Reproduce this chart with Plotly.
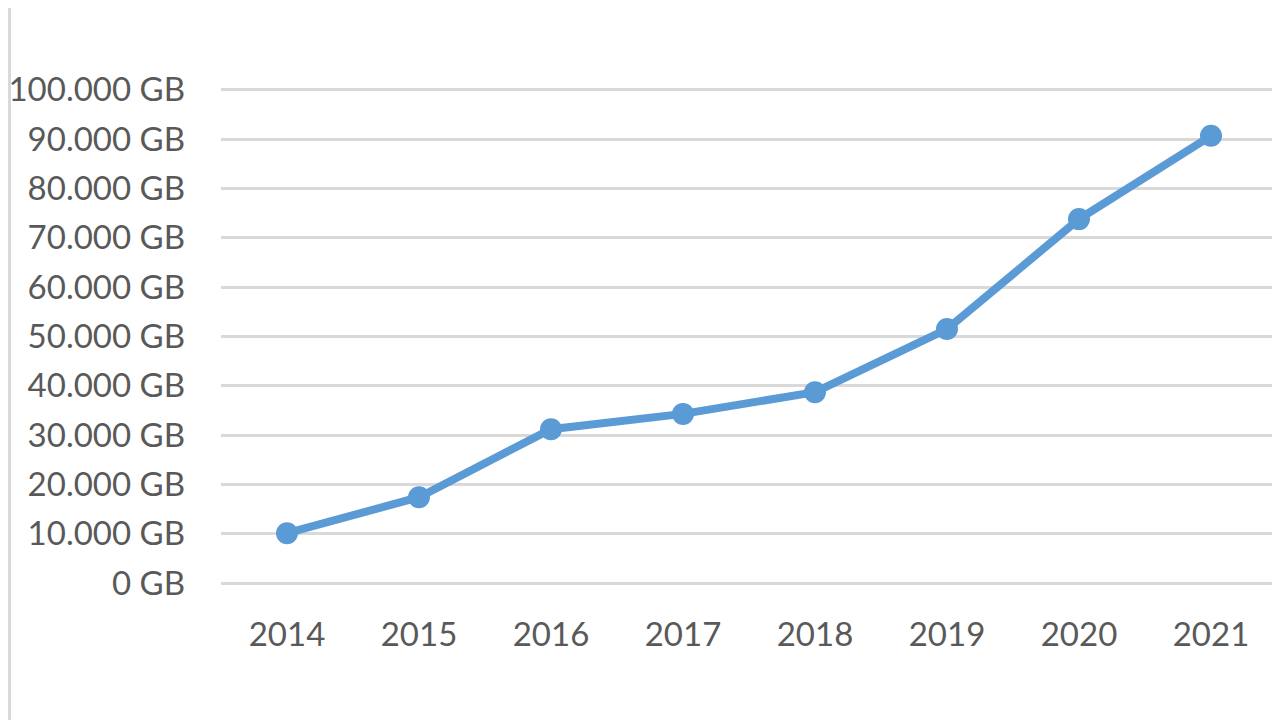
import plotly.graph_objects as go

years = ["2014", "2015", "2016", "2017", "2018", "2019", "2020", "2021"]
values_gb = [10100, 17400, 31200, 34300, 38700, 51500, 73800, 90700]
tick_vals = [0, 10000, 20000, 30000, 40000, 50000, 60000, 70000, 80000, 90000, 100000]
tick_text = ["0 GB", "10.000 GB", "20.000 GB", "30.000 GB", "40.000 GB", "50.000 GB",
             "60.000 GB", "70.000 GB", "80.000 GB", "90.000 GB", "100.000 GB"]

# page is offset by the default 8px body margin
OFF = 8
W, H = 1280, 720
ML = 221 - OFF
MR = W - (1277 - OFF)
MT = 85 - OFF
MB = H - (583 - OFF)
pw = W - ML - MR

def px_x(px):
    return (px - OFF - ML) / pw

fig = go.Figure()
fig.add_trace(go.Scatter(
    x=years, y=values_gb, mode="lines+markers",
    line=dict(color="#5B9BD5", width=8),
    marker=dict(color="#5B9BD5", size=22),
    showlegend=False, cliponaxis=False,
))

font = dict(family="Lato, Open Sans, sans-serif", size=33, color="#595959")

fig.update_layout(
    width=W, height=H,
    margin=dict(l=ML, r=MR, t=MT, b=MB),
    paper_bgcolor="white", plot_bgcolor="white",
    font=font,
    xaxis=dict(type="category", range=[-0.5, 7.5], showgrid=False, zeroline=False,
               showline=False, ticks="", tickfont=font, ticklabelstandoff=29,
               automargin=False),
    yaxis=dict(range=[0, 101000], tickvals=tick_vals, ticktext=tick_text,
               showgrid=True, gridcolor="#D9D9D9", gridwidth=2.5,
               zeroline=True, zerolinecolor="#D9D9D9", zerolinewidth=2.5,
               showline=False, ticks="", tickfont=font, ticklabelstandoff=35,
               automargin=False),
    shapes=[
        dict(type="line", xref="paper", yref="paper", x0=px_x(9.5), x1=px_x(9.5),
             y0=-1, y1=2, line=dict(color="#D9D9D9", width=3)),
        dict(type="line", xref="paper", yref="paper", x0=px_x(1277.5), x1=px_x(1277.5),
             y0=-1, y1=2, line=dict(color="#D9D9D9", width=3)),
    ],
)

fig.write_html("out.html")
